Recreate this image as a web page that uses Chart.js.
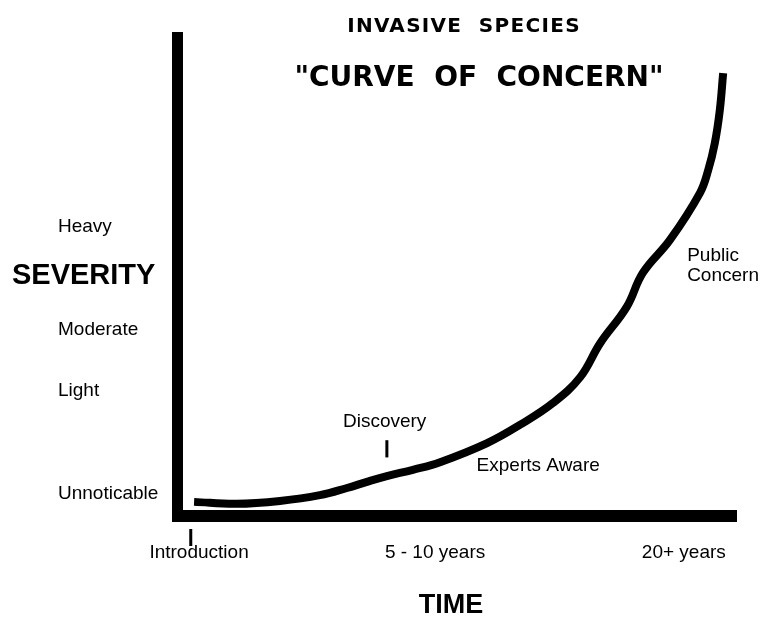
<!DOCTYPE html>
<html>
<head>
<meta charset="utf-8">
<script src="https://cdn.jsdelivr.net/npm/chart.js@4/dist/chart.umd.min.js"></script>
<style>
  html, body { margin: 0; padding: 0; background: #fff; }
  #wrap { width: 760px; height: 617px; position: relative; }
</style>
</head>
<body>
<div id="wrap"><canvas id="myChart"></canvas></div>
<script>
// curve of concern (time 0-100, severity 0-100)
const timeValues = [2.0, 9.7, 17.5, 24.7, 29.6, 33.2, 36.8, 41.5, 46.4, 54.9, 60.8, 66.8, 71.7, 75.3, 80.1, 83.0, 87.9, 93.3, 94.8, 96.0, 96.9, 97.5];
const severityValues = [1.7, 1.3, 1.9, 3.1, 4.6, 5.9, 7.1, 8.4, 10.0, 14.0, 17.8, 22.4, 27.8, 34.9, 42.5, 49.6, 56.5, 66.3, 71.1, 76.8, 83.7, 91.4];

const timeTicks = [2.9, 45.5, 90.4];
const timeLabels = ['Introduction', '5 - 10 years', '20+ years'];
const severityTicks = [59.2, 37.7, 24.9, 3.3];
const severityLabels = ['Heavy', 'Moderate', 'Light', 'Unnoticable'];

// stage notes along the curve: [text, time, severity, align]
const notes = [
  ['Discovery', 36.4, 18.4, 'center'],
  ['Experts Aware', 53.0, 9.2, 'left'],
  ['Public', 91.0, 53.2, 'left'],
  ['Concern', 91.0, 49.0, 'left']
];
const introTick = 1.4;
const discoveryTick = [36.8, 14.6, 11.0];

const sans = '"Liberation Sans", Arial, sans-serif';

const sketchPlugin = {
  id: 'sketch',
  afterDraw(chart) {
    const ctx = chart.ctx;
    const a = chart.chartArea;
    const xs = chart.scales.x;
    const ys = chart.scales.y;
    ctx.save();
    ctx.fillStyle = '#000';
    // thick axes
    ctx.fillRect(a.left - 11, a.top, 11, a.bottom - a.top + 12);
    ctx.fillRect(a.left - 11, a.bottom, a.right - a.left + 11, 12);

    // titles
    ctx.textAlign = 'center';
    ctx.textBaseline = 'middle';
    ctx.font = 'bold 20px "DejaVu Sans", sans-serif';
    ctx.letterSpacing = '1.3px';
    ctx.fillText('INVASIVE  SPECIES', 464, 27);
    ctx.font = 'bold 28px "DejaVu Sans", sans-serif';
    ctx.letterSpacing = '0px';
    ctx.fillText('"CURVE  OF  CONCERN"', 479, 79);

    // x tick labels
    ctx.font = '19px ' + sans;
    timeTicks.forEach((t, i) => {
      ctx.fillText(timeLabels[i], xs.getPixelForValue(t), a.bottom + 43);
    });
    ctx.fillRect(xs.getPixelForValue(introTick) - 1.5, a.bottom + 19, 3, 17);

    // y tick labels
    ctx.textAlign = 'left';
    severityTicks.forEach((v, i) => {
      ctx.fillText(severityLabels[i], 58, ys.getPixelForValue(v));
    });

    // notes
    notes.forEach(n => {
      ctx.textAlign = n[3];
      ctx.fillText(n[0], xs.getPixelForValue(n[1]), ys.getPixelForValue(n[2]));
    });
    const dx = xs.getPixelForValue(discoveryTick[0]);
    const dy1 = ys.getPixelForValue(discoveryTick[1]);
    const dy2 = ys.getPixelForValue(discoveryTick[2]);
    ctx.fillRect(dx - 1.5, dy1, 3, dy2 - dy1);

    // axis titles
    ctx.font = 'bold 29px ' + sans;
    ctx.textAlign = 'left';
    ctx.fillText('SEVERITY', 12, ys.getPixelForValue(49.0));
    ctx.font = 'bold 27px ' + sans;
    ctx.textAlign = 'center';
    ctx.fillText('TIME', 451, a.bottom + 96);
    ctx.restore();
  }
};

const data = {
  datasets: [{
    label: 'Severity',
    data: timeValues.map((t, i) => ({ x: t, y: severityValues[i] })),
    borderColor: '#000',
    borderWidth: 8,
    borderCapStyle: 'butt',
    borderJoinStyle: 'round',
    pointRadius: 0,
    fill: false,
    tension: 0.4,
    clip: false
  }]
};

const config = {
  type: 'line',
  data,
  options: {
    responsive: true,
    maintainAspectRatio: false,
    animation: false,
    layout: { padding: { left: 183, right: 23, top: 32, bottom: 107 } },
    plugins: { legend: { display: false }, tooltip: { enabled: false } },
    scales: {
      x: { type: 'linear', min: 0, max: 100, display: false },
      y: { type: 'linear', min: 0, max: 100, display: false }
    }
  },
  plugins: [sketchPlugin]
};

var myChart = new Chart(document.getElementById('myChart'), config);
</script>
</body>
</html>
